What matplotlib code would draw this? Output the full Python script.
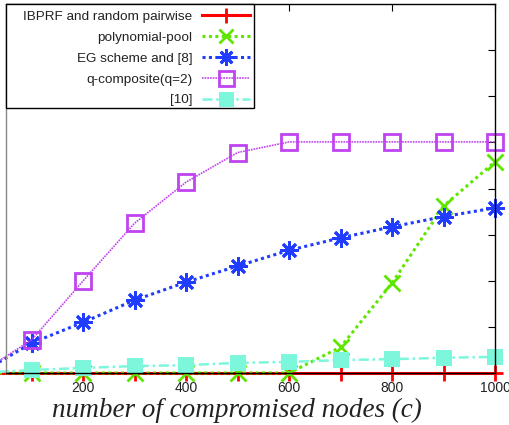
import matplotlib
matplotlib.use("Agg")
import matplotlib.pyplot as plt
from matplotlib.patches import Rectangle

# compromised nodes (c)
nodes = [0, 100, 200, 300, 400, 500, 600, 700, 800, 900, 1000]

# fraction of compromised links
ibprf = [0, 0, 0, 0, 0, 0, 0, 0, 0, 0, 0]
poly_pool = [0, 0, 0, 0, 0, 0, 0, 0.056, 0.195, 0.362, 0.458]
eg_scheme = [0, 0.065, 0.11, 0.158, 0.197, 0.232, 0.266, 0.293, 0.317, 0.339, 0.358]
q_composite = [0, 0.072, 0.20, 0.325, 0.414, 0.478, 0.501, 0.501, 0.501, 0.501, 0.501]
ref10 = [0, 0.0065, 0.011, 0.015, 0.017, 0.022, 0.024, 0.028, 0.030, 0.033, 0.035]

labels = ["IBPRF and random pairwise", "polynomial-pool", "EG scheme and [8]",
          "q-composite(q=2)", "[10]"]
xticks = [200, 400, 600, 800, 1000]

fig = plt.figure(figsize=(5.10, 4.25), dpi=100)
ax = fig.add_axes([6 / 510, 52 / 425, 489 / 510, 369 / 425])

h1, = ax.plot(nodes, ibprf, color="#ff0000", lw=2.2, ls="-",
              marker="+", ms=12, mew=2, clip_on=False)
h2, = ax.plot(nodes, poly_pool, color="#5fe600", lw=2.2, ls=(0, (1, 1.1)),
              marker="x", ms=11, mew=2, clip_on=False)
h3, = ax.plot(nodes, eg_scheme, color="#1f3cff", lw=2.2, ls=(0, (1, 1.1)),
              marker=(8, 2, 0), ms=13, mew=2, clip_on=False)
h4, = ax.plot(nodes, q_composite, color="#c043f0", lw=1.2, ls=(0, (1, 0.6)),
              marker="s", ms=12, mew=2, mfc="none", clip_on=False)
h5, = ax.plot(nodes, ref10, color="#7cf7dc", lw=1.8, ls=(0, (4, 1.5, 1, 1.5)),
              marker="s", ms=12, mew=0, mfc="#7cf7dc", clip_on=False)

ax.set_xlim(50, 1000)
ax.set_ylim(0, 0.8)
ax.set_xticks(xticks)
ax.set_yticks([0.1 * i for i in range(9)])
ax.tick_params(axis="x", direction="in", length=5, top=True, bottom=True,
               labelsize=10, pad=6)
ax.tick_params(axis="y", direction="in", length=5, left=False, right=True,
               labelleft=False, labelright=False)
for lab in ax.get_xticklabels():
    lab.set_family("Liberation Sans")
    lab.set_color("#222222")

for s in ["top", "right", "bottom"]:
    ax.spines[s].set_color("black")
    ax.spines[s].set_linewidth(1.0)
    ax.spines[s].set_zorder(3)
ax.spines["left"].set_color("#888888")
ax.spines["left"].set_linewidth(1.0)

ax.set_xlabel("number of compromised nodes (c)", fontsize=19.5, fontstyle="italic",
              family="Liberation Serif", color="#222222")
ax.xaxis.set_label_coords(0.473, -0.119)
ax.xaxis.label.set_va("baseline")

leg = ax.legend([h1, h2, h3, h4, h5], labels, markerfirst=False, frameon=False,
                loc="upper right", bbox_to_anchor=(0.513, 1.0), borderaxespad=0,
                borderpad=0.5, handlelength=3.6, handletextpad=0.7,
                labelspacing=0.62, numpoints=1, markerscale=0.9,
                prop={"family": "Liberation Sans", "size": 9.7})
leg.set_zorder(5)
for t in leg.get_texts():
    t.set_color("#222222")
ax.add_patch(Rectangle((0, 0.718), 0.507, 0.282, transform=ax.transAxes,
                       fill=True, fc="white", ec="black", lw=1.0, zorder=4,
                       clip_on=False))

fig.savefig("out.png", dpi=100)
